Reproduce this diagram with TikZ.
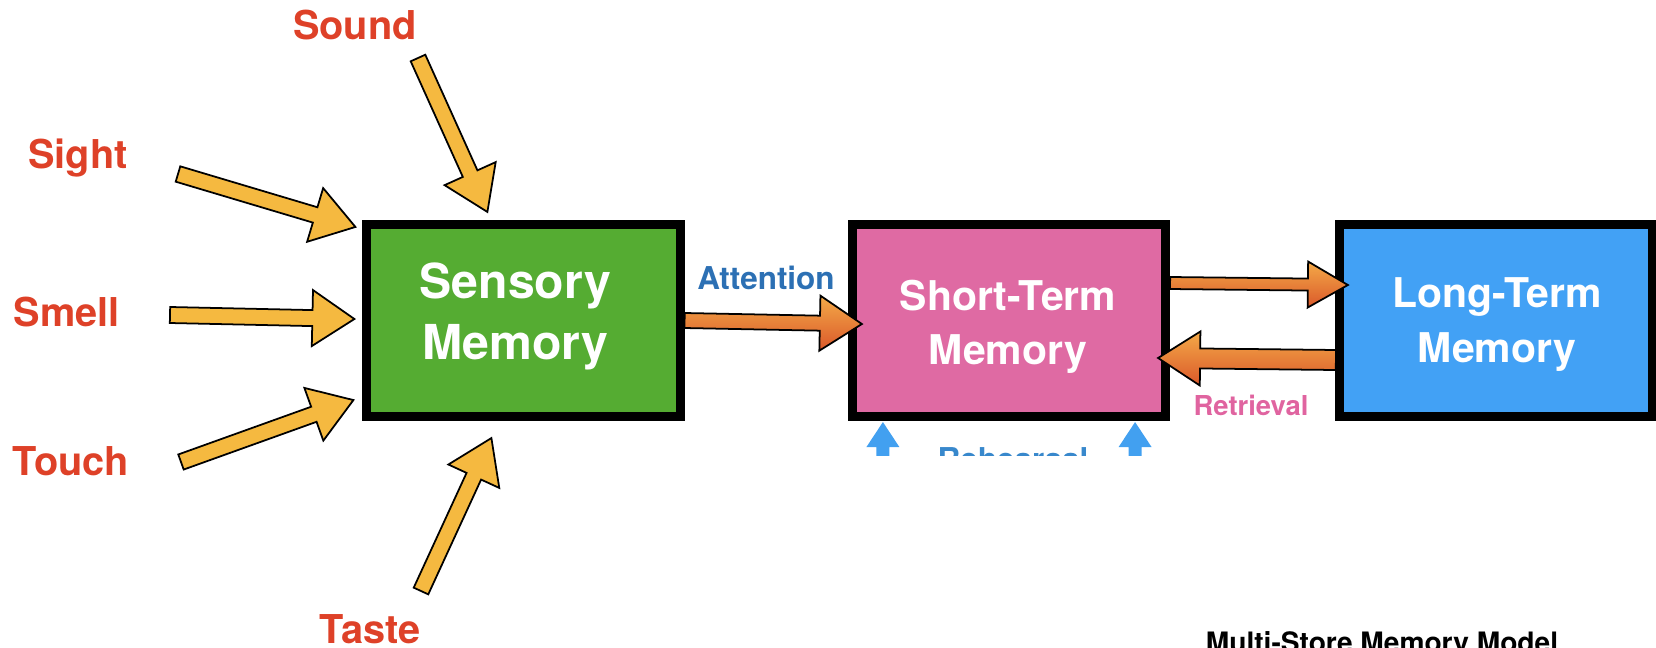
\documentclass[tikz,border=0pt]{standalone}
\usepackage{fontspec}
\setmainfont{TeX Gyre Heros}
\usetikzlibrary{calc}

\definecolor{sensgreen}{RGB}{85,172,50}
\definecolor{stmpink}{RGB}{223,106,163}
\definecolor{ltmblue}{RGB}{66,161,245}
\definecolor{sensered}{RGB}{222,65,40}
\definecolor{attblue}{RGB}{44,112,180}
\definecolor{retpink}{RGB}{224,100,160}
\definecolor{rehblue}{RGB}{66,160,240}
\definecolor{inyellow}{RGB}{245,185,64}
\definecolor{flowtop}{RGB}{244,170,72}
\definecolor{flowmid}{RGB}{232,132,58}
\definecolor{flowbot}{RGB}{218,88,42}

\tikzstyle{store} = [rectangle, draw=black, line width=0.09cm,
                 minimum width=3.13cm, minimum height=1.92cm, inner sep=0pt]
\tikzstyle{storetext} = [text=white, align=center, inner sep=0pt,
                 font=\bfseries\fontsize{11.65}{15.4}\selectfont]
\tikzstyle{sense} = [text=sensered, anchor=base, inner sep=0pt,
                 font=\bfseries\fontsize{11.3}{13}\selectfont]
\tikzstyle{inarrow} = [draw=black, line width=0.5pt, fill=inyellow]
\tikzstyle{flowarrow} = [draw=black, line width=0.5pt,
                 top color=flowtop, middle color=flowmid, bottom color=flowbot]
\tikzstyle{reharrow} = [fill=rehblue]

% fat arrow: style, from, to, half shaft, half head, head length
\newcommand{\fatarrow}[6]{%
  \coordinate (neck) at ($(#3)!#6!(#2)$);
  \path[#1] ($(#2)!#4!90:(#3)$) -- ($(neck)!#4!90:(#3)$)
    -- ($(neck)!#5!90:(#3)$) -- (#3) -- ($(neck)!#5!-90:(#3)$)
    -- ($(neck)!#4!-90:(#3)$) -- ($(#2)!#4!-90:(#3)$) -- cycle;
}

\begin{document}
\begin{tikzpicture}[x=0.01cm, y=-0.01cm]

\useasboundingbox (0,0) rectangle (1656,648);

\node [store, fill=sensgreen] at (523.5,320.5) (sensory) {};
\node [store, fill=stmpink] at (1009,320.5) (stm) {};
\node [store, fill=ltmblue] at (1496,320.5) (ltm) {};

\node [storetext, font=\bfseries\fontsize{13.7}{17.4}\selectfont]
  at ($(sensory)+(-8,-4)$) (sensory-text) {Sensory\\Memory};
\node [storetext] at ($(stm)+(-1,6)$) (stm-text) {Short-Term\\Memory};
\node [storetext] at ($(ltm)+(1,4)$) (ltm-text) {Long-Term\\Memory};

% senses
\node [sense] at (355,39) (sound) {Sound};
\node [sense] at (78,168) (sight) {Sight};
\node [sense] at (67,326) (smell) {Smell};
\node [sense] at (71,475) (touch) {Touch};
\node [sense] at (370,643) (taste) {Taste};

\coordinate (sound-from) at (418,58);
\coordinate (sight-from) at (178,174);
\coordinate (smell-from) at (170,315);
\coordinate (touch-from) at (181,462);
\coordinate (taste-from) at (421,591);
\coordinate (sound-to) at ($(sensory.north west)+(125,-8)$);
\coordinate (sight-to) at ($(sensory.north west)+(-7,7)$);
\coordinate (smell-to) at ($(sensory.west)+(-8,-1.5)$);
\coordinate (touch-to) at ($(sensory.south west)+(-9,-21)$);
\coordinate (taste-to) at ($(sensory.south west)+(129,17)$);

\foreach \s in {sound, sight, smell, touch, taste}{
  \fatarrow{inarrow}{\s-from}{\s-to}{0.08cm}{0.28cm}{0.42cm}
}

% between the stores
\coordinate (att-to) at ($(stm.west)+(14,3.5)$);
\fatarrow{flowarrow}{sensory.east}{att-to}{0.075cm}{0.275cm}{0.42cm}
\node [text=attblue, anchor=base, inner sep=0pt,
  font=\bfseries\fontsize{8.95}{11}\selectfont] at (766,289) (attention) {Attention};

\coordinate (store-from) at ($(stm.east)+(0,-37.5)$);
\coordinate (store-to) at ($(ltm.west)+(13,-35.5)$);
\fatarrow{flowarrow}{store-from}{store-to}{0.06cm}{0.23cm}{0.40cm}

\coordinate (ret-from) at ($(ltm.west)+(1,39.5)$);
\coordinate (ret-to) at ($(stm.east)+(-12,37.5)$);
\fatarrow{flowarrow}{ret-from}{ret-to}{0.10cm}{0.27cm}{0.42cm}
\node [text=retpink, anchor=base, inner sep=0pt,
  font=\bfseries\fontsize{7.8}{10}\selectfont] at (1251,415) (retrieval) {Retrieval};

% rehearsal loop, cut off below
\begin{scope}
\clip (780,400) rectangle (1250,455);
\coordinate (reh-a-from) at ($(stm.south west)+(35,60)$);
\coordinate (reh-a-to) at ($(stm.south west)+(35,1)$);
\coordinate (reh-b-from) at ($(stm.south east)+(-35,60)$);
\coordinate (reh-b-to) at ($(stm.south east)+(-35,1)$);
\fatarrow{reharrow}{reh-a-from}{reh-a-to}{0.065cm}{0.165cm}{0.25cm}
\fatarrow{reharrow}{reh-b-from}{reh-b-to}{0.065cm}{0.165cm}{0.25cm}
\node [text=rehblue!85!black, anchor=base west, inner sep=0pt,
  font=\bfseries\fontsize{8.95}{11}\selectfont] at (937,470) (rehearsal) {Rehearsal};
\end{scope}

\node [anchor=base, inner sep=0pt, font=\bfseries\fontsize{8}{10}\selectfont]
  at (1382,652) (caption) {Multi-Store Memory Model};

\end{tikzpicture}
\end{document}
